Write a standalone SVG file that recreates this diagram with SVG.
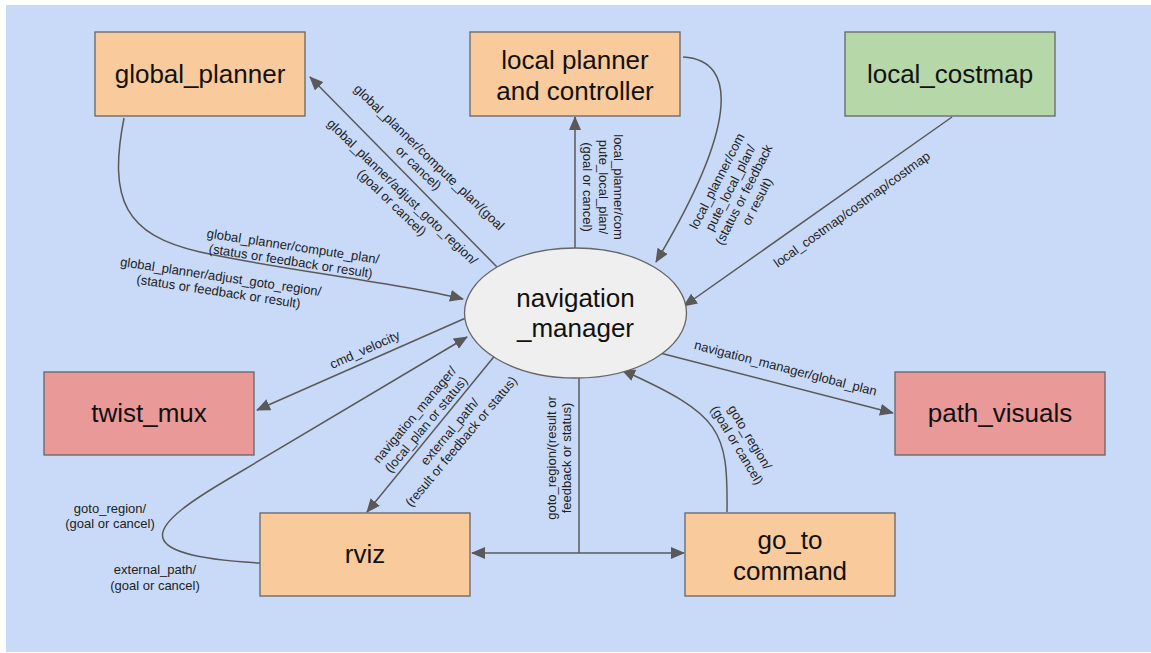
<svg xmlns="http://www.w3.org/2000/svg" width="1151" height="653" viewBox="0 0 1151 653">
  <style>
    .node { stroke: #666666; stroke-width: 1.3; }
    .orange { fill: #f9cb9c; }
    .green { fill: #b6d7a8; }
    .red { fill: #ea9999; }
    .grey { fill: #efefef; }
    .title { font-family: "Liberation Sans", Arial, sans-serif; font-size: 26px; fill: #111111; text-anchor: middle; }
    .edge { fill: none; stroke: #595959; stroke-width: 1.5; }
    .lbl { font-family: "Liberation Sans", Arial, sans-serif; font-size: 13px; fill: #222222; text-anchor: middle; }
  </style>
  <defs>
    <marker id="arrow" markerUnits="userSpaceOnUse" markerWidth="14" markerHeight="12" refX="13" refY="6" orient="auto">
      <path d="M0,0 L14,6 L0,12 z" fill="#595959"/>
    </marker>
  </defs>

  <rect x="6" y="5" width="1145" height="647" fill="#c9daf8"/>

  <!-- connectors -->
  <g id="connectors">
    <path class="edge" d="M497,267 L310,77" marker-end="url(#arrow)"/>
    <path class="edge" d="M124,118 C108,200 125,235 200,252 S400,283 463,299" marker-end="url(#arrow)"/>
    <path class="edge" d="M575,248 L575,117" marker-end="url(#arrow)"/>
    <path class="edge" d="M683,57 C740,60 735,130 656,262" marker-end="url(#arrow)"/>
    <path class="edge" d="M952,117 L684,306" marker-end="url(#arrow)"/>
    <path class="edge" d="M468,317 L257,410" marker-end="url(#arrow)"/>
    <path class="edge" d="M260,563 C120,555 150,525 230,478 L467,337" marker-end="url(#arrow)"/>
    <path class="edge" d="M497,353 L367,512" marker-end="url(#arrow)"/>
    <path class="edge" d="M579,378 L579,553"/>
    <path class="edge" d="M579,553 L472,553" marker-end="url(#arrow)"/>
    <path class="edge" d="M579,553 L684,553" marker-end="url(#arrow)"/>
    <path class="edge" d="M727,512 C728,430 722,415 622,370" marker-end="url(#arrow)"/>
    <path class="edge" d="M660,353 L893,413" marker-end="url(#arrow)"/>
  </g>

  <!-- connector labels -->
  <g id="labels">
    <text class="lbl" transform="translate(426,160.4) rotate(44)"><tspan x="0" y="0">global_planner/compute_plan/(goal</tspan><tspan x="0" y="15">or cancel)</tspan></text>
    <text class="lbl" transform="translate(399.2,194.9) rotate(44)"><tspan x="0" y="0">global_planner/adjust_goto_region/</tspan><tspan x="0" y="15">(goal or cancel)</tspan></text>
    <text class="lbl" transform="translate(292.4,250.6) rotate(8.7)"><tspan x="0" y="0">global_planner/compute_plan/</tspan><tspan x="0" y="15">(status or feedback or result)</tspan></text>
    <text class="lbl" transform="translate(220.1,281) rotate(8.5)"><tspan x="0" y="0">global_planner/adjust_goto_region/</tspan><tspan x="0" y="15">(status or feedback or result)</tspan></text>
    <text class="lbl" transform="translate(614,187) rotate(90)"><tspan x="0" y="0">local_planner/com</tspan><tspan x="0" y="15.5">pute_local_plan/</tspan><tspan x="0" y="31">(goal or cancel)</tspan></text>
    <text class="lbl" transform="translate(721,183) rotate(-63)"><tspan x="0" y="0">local_planner/com</tspan><tspan x="0" y="15">pute_local_plan/</tspan><tspan x="0" y="30">(status or feedback</tspan><tspan x="0" y="45">or result)</tspan></text>
    <text class="lbl" transform="translate(854.5,213) rotate(-35.6)">local_costmap/costmap/costmap</text>
    <text class="lbl" transform="translate(366.6,353.7) rotate(-24)">cmd_velocity</text>
    <text class="lbl" transform="translate(418,417.6) rotate(-50)"><tspan x="0" y="0">navigation_manager/</tspan><tspan x="0" y="15">(local_plan or status)</tspan></text>
    <text class="lbl" transform="translate(453,434.6) rotate(-50)"><tspan x="0" y="0">external_path/</tspan><tspan x="0" y="15">(result or feedback or status)</tspan></text>
    <text class="lbl" transform="translate(556,458) rotate(-90)"><tspan x="0" y="0">goto_region/(result or</tspan><tspan x="0" y="15">feedback or status)</tspan></text>
    <text class="lbl" transform="translate(746.1,439.6) rotate(59)"><tspan x="0" y="0">goto_region/</tspan><tspan x="0" y="15">(goal or cancel)</tspan></text>
    <text class="lbl" transform="translate(784.5,372.4) rotate(14.5)">navigation_manager/global_plan</text>
    <text class="lbl"><tspan x="110" y="513">goto_region/</tspan><tspan x="110" y="528">(goal or cancel)</tspan></text>
    <text class="lbl"><tspan x="155" y="574">external_path/</tspan><tspan x="155" y="590">(goal or cancel)</tspan></text>
  </g>

  <!-- nodes -->
  <g id="global_planner">
    <rect class="node orange" x="95" y="32" width="210" height="84"/>
    <text class="title" x="200" y="83">global_planner</text>
  </g>
  <g id="local_planner">
    <rect class="node orange" x="470" y="32" width="210" height="84"/>
    <text class="title"><tspan x="575" y="69">local planner</tspan><tspan x="575" y="100">and controller</tspan></text>
  </g>
  <g id="local_costmap">
    <rect class="node green" x="845" y="32" width="210" height="84"/>
    <text class="title" x="950" y="83">local_costmap</text>
  </g>
  <g id="navigation_manager">
    <ellipse class="node grey" cx="575.5" cy="313" rx="111" ry="65"/>
    <text class="title"><tspan x="575.5" y="307">navigation</tspan><tspan x="575.5" y="337">_manager</tspan></text>
  </g>
  <g id="twist_mux">
    <rect class="node red" x="44" y="372" width="210" height="83"/>
    <text class="title" x="149" y="422">twist_mux</text>
  </g>
  <g id="path_visuals">
    <rect class="node red" x="895" y="372" width="210" height="83"/>
    <text class="title" x="1000" y="422">path_visuals</text>
  </g>
  <g id="rviz">
    <rect class="node orange" x="260" y="513" width="210" height="83"/>
    <text class="title" x="365" y="563">rviz</text>
  </g>
  <g id="go_to_command">
    <rect class="node orange" x="685" y="513" width="210" height="83"/>
    <text class="title"><tspan x="790" y="549">go_to</tspan><tspan x="790" y="580">command</tspan></text>
  </g>
</svg>
